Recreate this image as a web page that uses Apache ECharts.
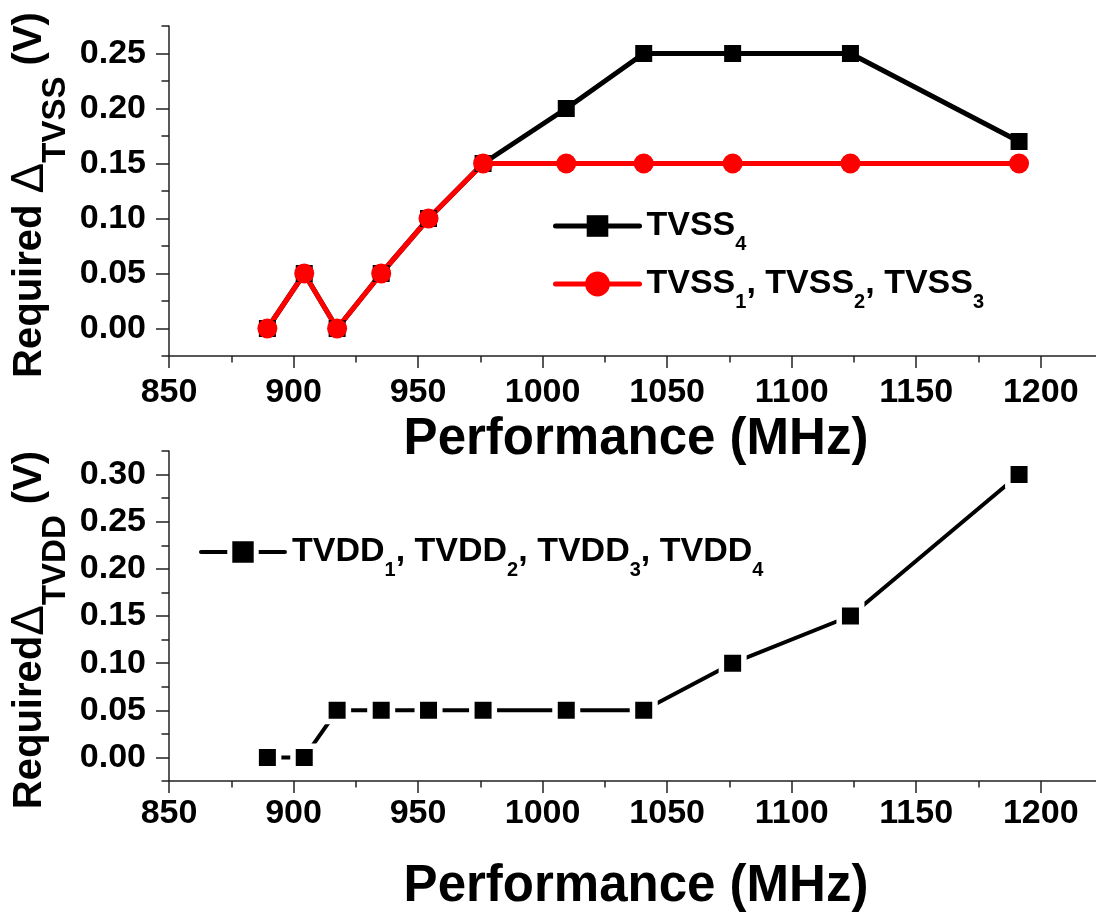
<!DOCTYPE html>
<html>
<head>
<meta charset="utf-8">
<script src="https://cdn.jsdelivr.net/npm/echarts@6/dist/echarts.min.js"></script>
<style>
  html, body { margin: 0; padding: 0; background: #fff; }
  #chart { width: 1096px; height: 919px; }
</style>
</head>
<body>
<div id="chart"></div>
<script>
// Operating frequencies (MHz) shared by every curve
const freqMHz = [889.5, 904.3, 917.5, 935.2, 954.2, 976.1, 1009.5, 1040.6, 1076.3, 1123.6, 1191.3];

// Required delta on the virtual ground rails (V)
const tvss4 = [0, 0.05, 0, 0.05, 0.10, 0.15, 0.20, 0.25, 0.25, 0.25, 0.17];
const tvss123 = [0, 0.05, 0, 0.05, 0.10, 0.15, 0.15, 0.15, 0.15, 0.15, 0.15];

// Required delta on the virtual supply rails (V)
const tvddAll = [0, 0, 0.05, 0.05, 0.05, 0.05, 0.05, 0.05, 0.10, 0.15, 0.30];

// Tick positions
const xMajorTicks = [850, 900, 950, 1000, 1050, 1100, 1150, 1200];
const xMinorTicks = [875, 925, 975, 1025, 1075, 1125, 1175];
const yTopMajor = [0, 0.05, 0.10, 0.15, 0.20, 0.25];
const yTopMinor = [-0.025, 0.025, 0.075, 0.125, 0.175, 0.225, 0.275];
const yBotMajor = [0, 0.05, 0.10, 0.15, 0.20, 0.25, 0.30];
const yBotMinor = [-0.025, 0.025, 0.075, 0.125, 0.175, 0.225, 0.275, 0.325];

const FONT = 'Liberation Sans, Arial, Helvetica, sans-serif';
const AXIS_COLOR = '#222';

const pairs = (xs, ys) => xs.map((x, i) => [x, ys[i]]);

const legendNames = {
  'TVSS4': '{m|TVSS}{s|4}',
  'TVSS123': '{m|TVSS}{s|1}{m|, TVSS}{s|2}{m|, TVSS}{s|3}',
  'TVDD': '{m|TVDD}{s|1}{m|, TVDD}{s|2}{m|, TVDD}{s|3}{m|, TVDD}{s|4}'
};
const legendRich = {
  m: { fontFamily: FONT, fontWeight: 'bold', fontSize: 34, lineHeight: 34, color: '#000' },
  s: { fontFamily: FONT, fontWeight: 'bold', fontSize: 20, lineHeight: 20, color: '#000', padding: [36, 0, 0, 0] }
};
const nameRich = {
  a: { fontFamily: FONT, fontWeight: 'bold', fontSize: 40, lineHeight: 40, color: '#000' },
  d: { fontFamily: FONT, fontWeight: 'normal', fontSize: 46, lineHeight: 40, color: '#000' },
  s: { fontFamily: FONT, fontWeight: 'bold', fontSize: 33, lineHeight: 33, color: '#000', padding: [52, 0, 0, 0] }
};

function majorX(gridIndex, labelMargin, nameGap) {
  return {
    type: 'value', gridIndex, min: 850, max: 1225, position: 'bottom',
    axisLine: { show: true, onZero: false, lineStyle: { color: AXIS_COLOR, width: 1.5 } },
    axisTick: { show: true, customValues: xMajorTicks, length: 12, lineStyle: { color: AXIS_COLOR, width: 1.5 } },
    axisLabel: { customValues: xMajorTicks, margin: labelMargin, fontFamily: FONT, fontWeight: 'bold', fontSize: 34, color: '#000',
      formatter: v => String(v) },
    splitLine: { show: false },
    name: 'Performance (MHz)', nameLocation: 'middle', nameGap, nameMoveOverlap: false,
    nameTextStyle: { fontFamily: FONT, fontWeight: 'bold', fontSize: 51, color: '#000' }
  };
}
function minorX(gridIndex) {
  return {
    type: 'value', gridIndex, min: 850, max: 1225, position: 'bottom',
    axisLine: { show: false, onZero: false },
    axisTick: { show: true, customValues: xMinorTicks, length: 6.5, lineStyle: { color: AXIS_COLOR, width: 1.5 } },
    axisLabel: { show: false }, splitLine: { show: false }
  };
}
function majorY(gridIndex, max, ticks, name, shift) {
  return {
    type: 'value', gridIndex, min: -0.025, max, position: 'left',
    axisLine: { show: true, onZero: false, lineStyle: { color: AXIS_COLOR, width: 1.5 } },
    axisTick: { show: true, customValues: ticks, length: 13, lineStyle: { color: AXIS_COLOR, width: 1.5 } },
    axisLabel: { customValues: ticks, margin: 23, fontFamily: FONT, fontWeight: 'bold', fontSize: 34, color: '#000',
      formatter: v => v.toFixed(2) },
    splitLine: { show: false },
    name, nameLocation: 'middle', nameGap: 119, nameMoveOverlap: false,
    nameTextStyle: { rich: nameRich, padding: [0, shift, 0, 0] }
  };
}
function minorY(gridIndex, max, ticks) {
  return {
    type: 'value', gridIndex, min: -0.025, max, position: 'left',
    axisLine: { show: false, onZero: false },
    axisTick: { show: true, customValues: ticks, length: 7.5, lineStyle: { color: AXIS_COLOR, width: 1.5 } },
    axisLabel: { show: false }, splitLine: { show: false }
  };
}
function legendAt(name, left, top, iconHeight, lineWidth, itemStyle) {
  return {
    data: [name], left, top, orient: 'horizontal',
    itemWidth: 84, itemHeight: iconHeight, itemGap: 0,
    selectedMode: false,
    lineStyle: { width: lineWidth, cap: 'round' },
    itemStyle,
    formatter: n => legendNames[n],
    textStyle: { rich: legendRich, padding: [0, 0, 0, 2] }
  };
}

const chart = echarts.init(document.getElementById('chart'), null, { renderer: 'canvas' });
chart.setOption({
  animation: false,
  backgroundColor: '#fff',
  grid: [
    { left: 169, top: 26, right: -7, height: 330, outerBoundsMode: 'none', containLabel: false },
    { left: 169, top: 451, right: -7, height: 330, outerBoundsMode: 'none', containLabel: false }
  ],
  xAxis: [majorX(0, 20, 58), minorX(0), majorX(1, 16, 80), minorX(1)],
  yAxis: [
    majorY(0, 0.275, yTopMajor, '{a|Required }{d|Δ}{s|TVSS}{a| (V)}', 8),
    minorY(0, 0.275, yTopMinor),
    majorY(1, 0.325, yBotMajor, '{a|Required}{d|Δ}{s|TVDD}{a| (V)}', 28),
    minorY(1, 0.325, yBotMinor)
  ],
  legend: [
    legendAt('TVSS4', 548, 193, 27, 5, {}),
    legendAt('TVSS123', 548, 251, 31, 5, {}),
    legendAt('TVDD', 194, 519, 33, 4, { borderColor: '#fff', borderWidth: 5 })
  ],
  series: [
    {
      name: 'TVSS4', type: 'line', xAxisIndex: 0, yAxisIndex: 0,
      data: pairs(freqMHz, tvss4),
      symbol: 'rect', symbolSize: 17,
      itemStyle: { color: '#000' },
      lineStyle: { color: '#000', width: 5, cap: 'round', join: 'round' },
      emphasis: { disabled: true }
    },
    {
      name: 'TVSS123', type: 'line', xAxisIndex: 0, yAxisIndex: 0,
      data: pairs(freqMHz, tvss123),
      symbol: 'circle', symbolSize: 20,
      itemStyle: { color: '#ff0000' },
      lineStyle: { color: '#ff0000', width: 5, cap: 'round', join: 'round' },
      emphasis: { disabled: true }
    },
    {
      name: 'TVDD', type: 'line', xAxisIndex: 2, yAxisIndex: 2,
      data: pairs(freqMHz, tvddAll),
      symbol: 'rect', symbolSize: 22.5,
      itemStyle: { color: '#000', borderColor: '#fff', borderWidth: 5.5 },
      lineStyle: { color: '#000', width: 4, cap: 'round', join: 'round' },
      emphasis: { disabled: true }
    }
  ]
});
</script>
</body>
</html>
